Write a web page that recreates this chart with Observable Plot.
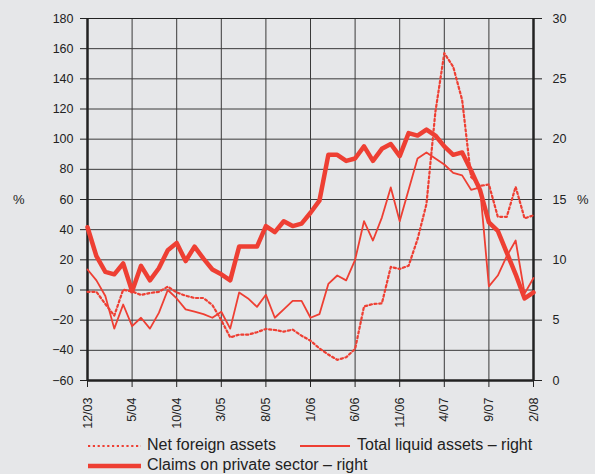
<!DOCTYPE html>
<html><head><meta charset="utf-8">
<script src="https://cdn.jsdelivr.net/npm/d3@7"></script>
<script src="https://cdn.jsdelivr.net/npm/@observablehq/plot@0.6"></script>
<style>
body{margin:0;background:#e6e7e9;font-family:"Liberation Sans",Arial,sans-serif;}
#wrap{position:relative;width:595px;height:474px;background:#e6e7e9;overflow:hidden;}
#wrap svg.plot{position:absolute;left:0;top:0;}
.lab{position:absolute;font-size:16px;color:#222;white-space:nowrap;line-height:1;}
.pct{position:absolute;font-size:13px;color:#222;line-height:1;}
.sw{position:absolute;}
</style></head><body><div id="wrap"></div>
<script>
// Monthly observations, 12/03 ... 2/08 (51 months)
const netForeignAssets = [-1.2,-1.2,-9.3,-17,0.2,-1,-3.3,-2,-1.2,2.2,-1.6,-3.8,-5.3,-5.3,-10,-20,-31.4,-29.6,-29.6,-28,-25.8,-26.5,-27.6,-26.3,-30.3,-33.6,-38.7,-42.8,-46.3,-44.6,-39.1,-10.9,-9.3,-8.9,15.3,13.9,16.1,33.7,57,118,157,148,126,75,69,70,48.5,48.5,68.4,47.5,49.5];
// right axis (%)
const totalLiquidAssets = [9.2,8.3,7.0,4.3,6.3,4.5,5.2,4.3,5.6,7.5,6.8,5.9,5.7,5.5,5.2,5.7,4.3,7.3,6.8,6.1,7.1,5.2,5.9,6.6,6.6,5.2,5.5,8.0,8.7,8.3,10.0,13.2,11.6,13.5,16.0,13.2,15.8,18.4,18.9,18.4,17.9,17.2,17.0,15.8,16.0,7.8,8.7,10.3,11.6,7.2,8.5];
// right axis (%)
const claimsPrivateSector = [12.7,10.3,9.0,8.8,9.7,7.4,9.5,8.3,9.3,10.8,11.4,9.9,11.1,10.1,9.2,8.8,8.3,11.1,11.1,11.1,12.8,12.3,13.2,12.8,13.0,13.9,14.9,18.7,18.7,18.2,18.4,19.4,18.2,19.2,19.6,18.6,20.5,20.3,20.8,20.3,19.4,18.7,18.9,17.4,15.8,13.1,12.4,10.6,8.8,6.8,7.3];
const tickLabels = ["12/03","5/04","10/04","3/05","8/05","1/06","6/06","11/06","4/07","9/07","2/08"];
const leftTicks = [-60,-40,-20,0,20,40,60,80,100,120,140,160,180];
const rightTicks = [0,5,10,15,20,25,30];
const legendLabels = ["Net foreign assets","Total liquid assets – right","Claims on private sector – right"];

const red = "#ee3f33";
const toLeft = r => r * 8 - 60;   // right-axis value -> left-axis scale
const toRight = v => (v + 60) / 8;

const rows = netForeignAssets.map((v, i) => ({
  i,
  nfa: v,
  tla: toLeft(totalLiquidAssets[i]),
  cps: toLeft(claimsPrivateSector[i])
}));
const xTicks = tickLabels.map((d, k) => k * 5);
const n = netForeignAssets.length - 1;

const chart = Plot.plot({
  width: 595,
  height: 430,
  marginLeft: 87,
  marginRight: 62,
  marginTop: 18,
  marginBottom: 50,
  style: {background: "transparent", fontFamily: "Liberation Sans, Arial, sans-serif", fontSize: "12.5px", color: "#222"},
  x: {domain: [0, n]},
  y: {domain: [-60, 180]},
  marks: [
    Plot.gridY(leftTicks, {stroke: "#3a3a3a", strokeOpacity: 1, strokeWidth: 1}),
    Plot.gridX(xTicks, {stroke: "#3a3a3a", strokeOpacity: 1, strokeWidth: 1}),
    Plot.axisY(leftTicks, {anchor: "left", tickSize: 7, tickPadding: 7, label: null, stroke: "#222"}),
    Plot.axisY(rightTicks.map(toLeft), {anchor: "right", tickSize: 8, tickPadding: 11, label: null, tickFormat: d => toRight(d), stroke: "#222"}),
    Plot.axisX(xTicks, {anchor: "bottom", tickSize: 7, tickPadding: 10, tickRotate: -90, label: null, tickFormat: d => tickLabels[d / 5], stroke: "#222"}),
    Plot.ruleY([180], {stroke: "#222", strokeWidth: 1}),
    Plot.ruleY([-60], {stroke: "#222", strokeWidth: 2.5}),
    Plot.ruleX([0, n], {stroke: "#222", strokeWidth: 2.5}),
    Plot.line(rows, {x: "i", y: "nfa", stroke: red, strokeWidth: 2.2, strokeDasharray: "2.2,2.6", strokeLinejoin: "round"}),
    Plot.line(rows, {x: "i", y: "tla", stroke: red, strokeWidth: 1.8, strokeLinejoin: "round"}),
    Plot.line(rows, {x: "i", y: "cps", stroke: red, strokeWidth: 4.5, strokeLinejoin: "round"})
  ]
});
chart.classList.add("plot");
const wrap = document.getElementById("wrap");
wrap.appendChild(chart);

function addPct(x, y) {
  const d = document.createElement("div");
  d.className = "pct"; d.textContent = "%";
  d.style.left = x + "px"; d.style.top = y + "px";
  wrap.appendChild(d);
}
addPct(13, 193);
addPct(577, 193);

function addLegend(x1, x2, y, w, dash, text, tx) {
  const ns = "http://www.w3.org/2000/svg";
  const s = document.createElementNS(ns, "svg");
  s.setAttribute("class", "sw");
  s.setAttribute("width", x2 - x1); s.setAttribute("height", 10);
  s.style.left = x1 + "px"; s.style.top = (y - 5) + "px";
  const l = document.createElementNS(ns, "line");
  l.setAttribute("x1", 0); l.setAttribute("x2", x2 - x1);
  l.setAttribute("y1", 5); l.setAttribute("y2", 5);
  l.setAttribute("stroke", red); l.setAttribute("stroke-width", w);
  if (dash) l.setAttribute("stroke-dasharray", dash);
  s.appendChild(l);
  wrap.appendChild(s);
  const d = document.createElement("div");
  d.className = "lab"; d.textContent = text;
  d.style.left = tx + "px"; d.style.top = (y - 9) + "px";
  wrap.appendChild(d);
}
addLegend(88, 141, 446, 2.2, "2.2,2.6", legendLabels[0], 147);
addLegend(300, 350, 446, 1.8, null, legendLabels[1], 357);
addLegend(88, 141, 466, 4.5, null, legendLabels[2], 147);
</script></body></html>
